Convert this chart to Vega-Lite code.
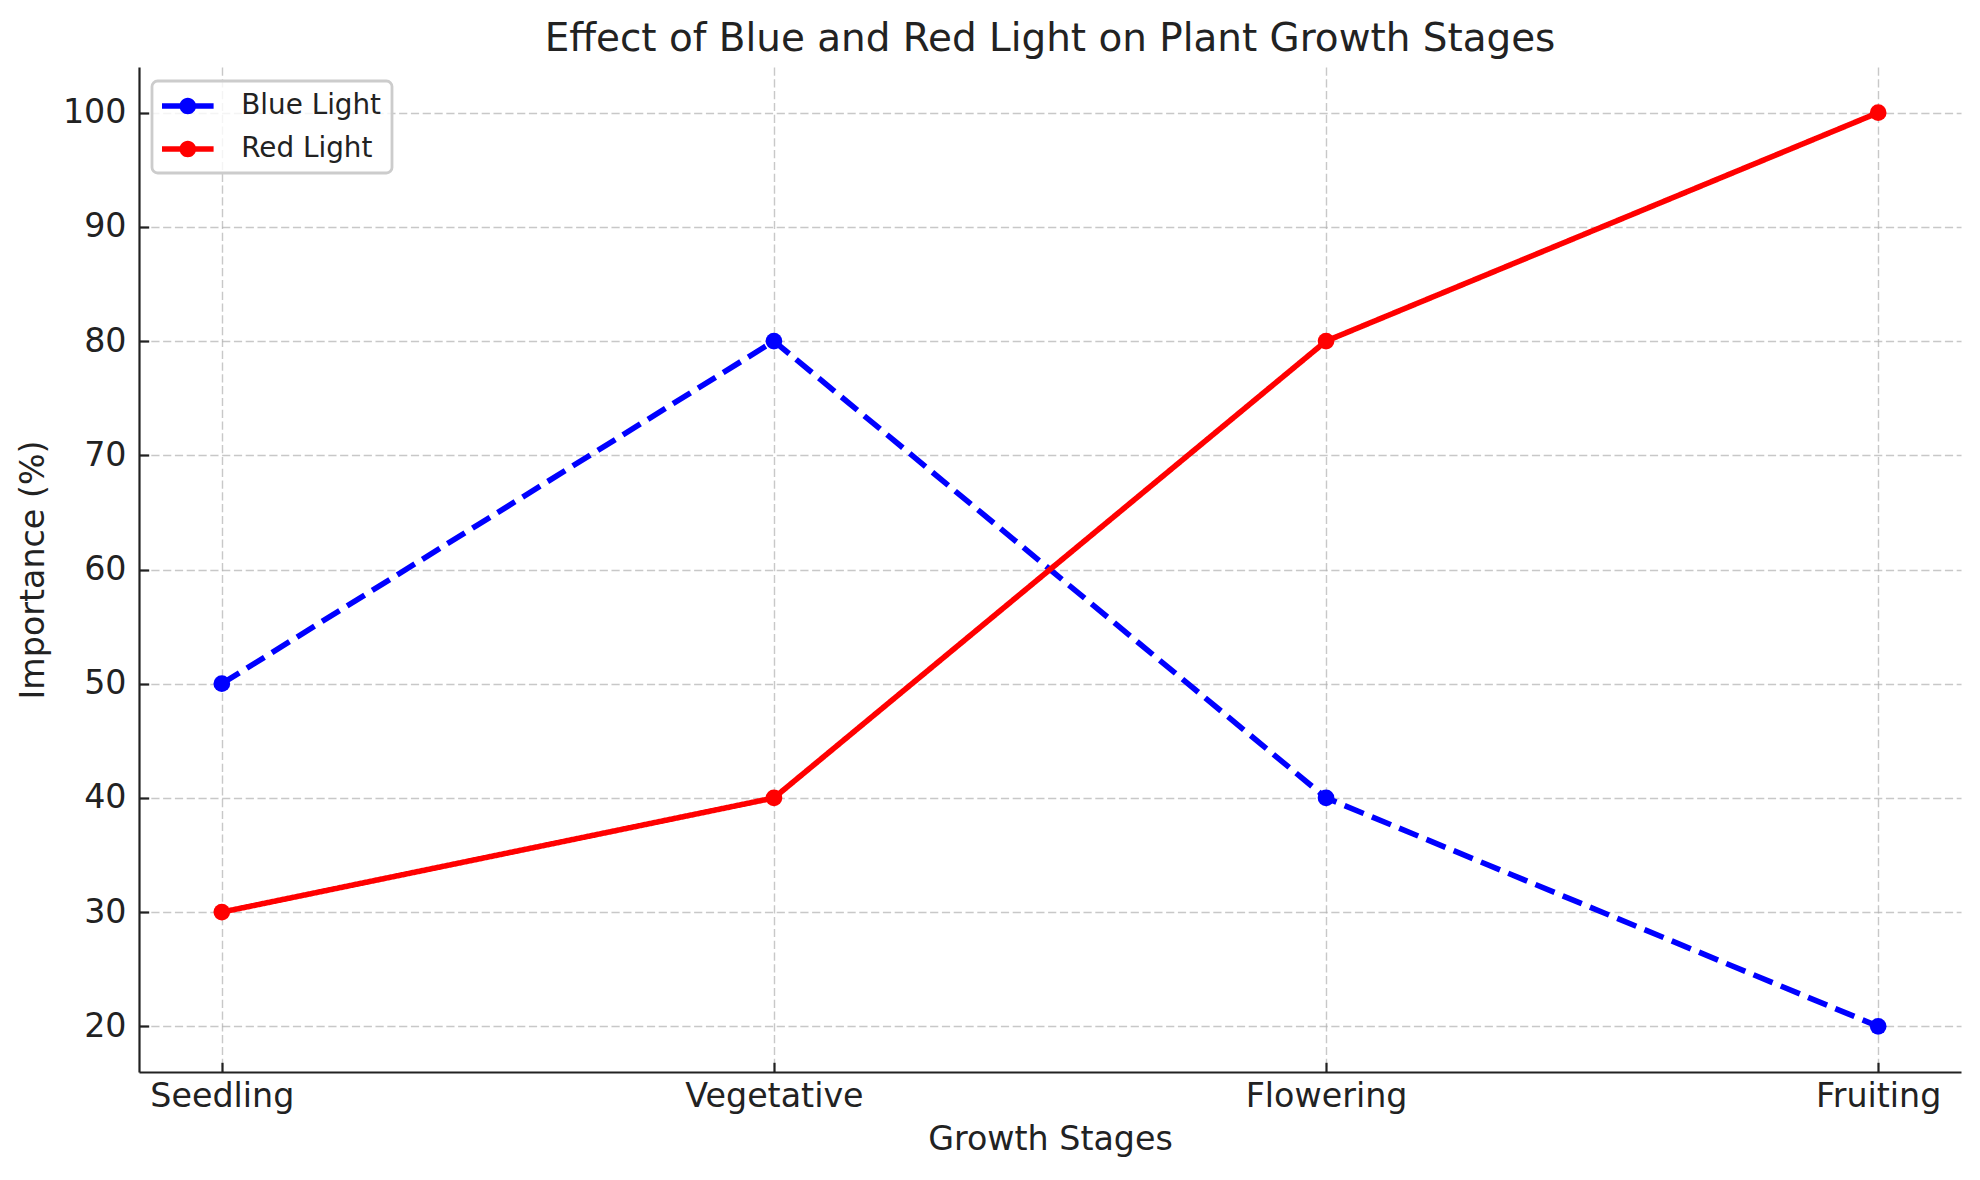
{
  "$schema": "https://vega.github.io/schema/vega-lite/v6.json",
  "width": 1822,
  "height": 1005,
  "autosize": {"type": "none"},
  "padding": {"left": 139, "top": 67, "right": 19, "bottom": 108},
  "background": "white",
  "title": {
    "text": "Effect of Blue and Red Light on Plant Growth Stages",
    "font": "DejaVu Sans",
    "fontSize": 38.9,
    "fontWeight": "normal",
    "color": "#222222",
    "anchor": "middle",
    "frame": "group",
    "baseline": "alphabetic",
    "offset": 17,
    "dy": 40
  },
  "data": {
    "values": [
      {"stage": "Seedling", "series": "Blue Light", "importance": 50},
      {"stage": "Vegetative", "series": "Blue Light", "importance": 80},
      {"stage": "Flowering", "series": "Blue Light", "importance": 40},
      {"stage": "Fruiting", "series": "Blue Light", "importance": 20},
      {"stage": "Seedling", "series": "Red Light", "importance": 30},
      {"stage": "Vegetative", "series": "Red Light", "importance": 40},
      {"stage": "Flowering", "series": "Red Light", "importance": 80},
      {"stage": "Fruiting", "series": "Red Light", "importance": 100}
    ]
  },
  "encoding": {
    "x": {
      "field": "stage",
      "type": "nominal",
      "sort": ["Seedling", "Vegetative", "Flowering", "Fruiting"],
      "scale": {"type": "point", "padding": 0.15},
      "axis": {
        "title": "Growth Stages",
        "labelAngle": 0,
        "labelPadding": 17.7,
        "labelBaseline": "top",
        "titleX": 911,
        "titleY": 77,
        "titleBaseline": "alphabetic",
        "titleAlign": "center",
        "titleAnchor": null
      }
    },
    "y": {
      "field": "importance",
      "type": "quantitative",
      "scale": {"domain": [16, 104], "nice": false, "zero": false},
      "axis": {
        "title": "Importance (%)",
        "values": [20, 30, 40, 50, 60, 70, 80, 90, 100],
        "labelPadding": 22.7,
        "titleAngle": -90,
        "titleX": -96,
        "titleY": 502.5,
        "titleBaseline": "alphabetic",
        "titleAlign": "center",
        "titleAnchor": null
      }
    },
    "color": {
      "field": "series",
      "type": "nominal",
      "scale": {"domain": ["Blue Light", "Red Light"], "range": ["#0000ff", "#ff0000"]},
      "legend": {
        "title": null,
        "orient": "none",
        "legendX": 13,
        "legendY": 14,
        "padding": 10,
        "rowPadding": 14,
        "symbolType": "M-1.72,-0.187L1.72,-0.187L1.72,0.187L-1.72,0.187Z M0.553,0A0.553,0.553,0,1,1,-0.553,0A0.553,0.553,0,1,1,0.553,0Z",
        "symbolSize": 900,
        "symbolOffset": 10.8,
        "symbolStrokeWidth": 0,
        "labelOffset": 38.5,
        "labelFont": "DejaVu Sans",
        "labelFontSize": 27.8,
        "labelColor": "#222222",
        "fillColor": "rgba(255,255,255,0.8)",
        "strokeColor": "#cccccc",
        "cornerRadius": 5.6,
        "encode": {
          "symbols": {"update": {"fill": {"scale": "color", "field": "value"}, "stroke": {"value": "transparent"}, "opacity": {"value": 1}}},
          "legend": {"update": {"strokeWidth": {"value": 2.8}}}
        }
      }
    }
  },
  "layer": [
    {
      "mark": {"type": "line", "strokeWidth": 5.6, "strokeCap": "butt", "strokeJoin": "round"},
      "encoding": {
        "strokeDash": {
          "field": "series",
          "type": "nominal",
          "scale": {"domain": ["Blue Light", "Red Light"], "range": [[20.6, 8.9], [1, 0]]},
          "legend": null
        }
      }
    },
    {
      "mark": {"type": "point", "filled": true, "shape": "circle", "size": 279, "opacity": 1}
    }
  ],
  "config": {
    "view": {"stroke": null},
    "font": "DejaVu Sans",
    "axis": {
      "labelFont": "DejaVu Sans",
      "labelFontSize": 33.3,
      "labelColor": "#222222",
      "titleFont": "DejaVu Sans",
      "titleFontSize": 33.3,
      "titleFontWeight": "normal",
      "titleColor": "#222222",
      "domainColor": "#222222",
      "domainWidth": 2.2,
      "tickColor": "#222222",
      "tickWidth": 2.2,
      "tickSize": -9.7,
      "grid": true,
      "gridColor": "#b0b0b0",
      "gridOpacity": 0.7,
      "gridDash": [8.2, 3.6],
      "gridWidth": 1.4
    }
  }
}
